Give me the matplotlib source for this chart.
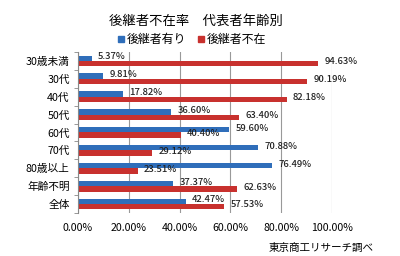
'''後継者不在率 代表者年齢別 (horizontal bar chart)'''
import numpy as np
import matplotlib
matplotlib.use('Agg')
import matplotlib.pyplot as plt
from matplotlib.patches import Patch

plt.rcParams['font.family'] = ['Noto Sans CJK JP', 'DejaVu Sans']

# data
cats = ['30歳未満', '30代', '40代', '50代', '60代', '70代', '80歳以上', '年齢不明', '全体']
have = [5.37, 9.81, 17.82, 36.60, 59.60, 70.88, 76.49, 37.37, 42.47]   # 後継者有り
absent = [94.63, 90.19, 82.18, 63.40, 40.40, 29.12, 23.51, 62.63, 57.53]  # 後継者不在
xticks = [0, 20, 40, 60, 80, 100]

c_blue = '#2F6EBA'
c_red = '#C8312E'

fig = plt.figure(figsize=(4, 2.56), dpi=100)
ax = fig.add_axes([0.195, 0.168, 0.635, 0.629])

y = np.arange(len(cats))
h = 0.3
ax.barh(y - h / 2, have, height=h, color=c_blue)
ax.barh(y + h / 2, absent, height=h, color=c_red)

# data labels
for i in range(len(cats)):
    ax.text(have[i] + 2.5, y[i] - h / 2 - 0.08, '%.2f%%' % have[i], fontsize=6.8,
            va='center', ha='left', color='#222222', fontweight='medium')
    ax.text(absent[i] + 2.5, y[i] + h / 2 - 0.1, '%.2f%%' % absent[i], fontsize=6.8,
            va='center', ha='left', color='#222222', fontweight='medium')

ax.set_xlim(0, 100)
ax.set_ylim(len(cats) - 0.5, -0.5)
ax.set_xticks(xticks)
ax.set_xticklabels(['%.2f%%' % v for v in xticks], fontsize=7.6)
ax.set_yticks(y)
ax.set_yticklabels(cats, fontsize=7.7)
ax.set_yticks(np.arange(-0.5, len(cats), 1), minor=True)
ax.tick_params(axis='y', which='major', length=0, pad=6)
ax.tick_params(axis='y', which='minor', length=3, color='#888888', direction='out')
ax.tick_params(axis='x', length=0, pad=7)

ax.grid(axis='x', color='#999999', linewidth=0.8)
ax.set_axisbelow(True)
for s in ['top', 'right', 'bottom']:
    ax.spines[s].set_visible(False)
ax.spines['left'].set_color('#888888')
ax.spines['left'].set_linewidth(0.8)

fig.text(0.49, 0.92, '後継者不在率\u3000代表者年齢別', ha='center', va='center', fontsize=9.6)
handles = [Patch(color=c_blue), Patch(color=c_red)]
fig.legend(handles, ['後継者有り', '後継者不在'], loc='center', bbox_to_anchor=(0.48, 0.845),
           ncol=2, frameon=False, fontsize=8.6, handlelength=0.5, handleheight=0.5,
           handletextpad=0.2, columnspacing=1.0)
fig.text(0.935, 0.03, '東京商工リサーチ調べ', ha='right', va='center', fontsize=7.6)

plt.savefig('out.png', dpi=100)
